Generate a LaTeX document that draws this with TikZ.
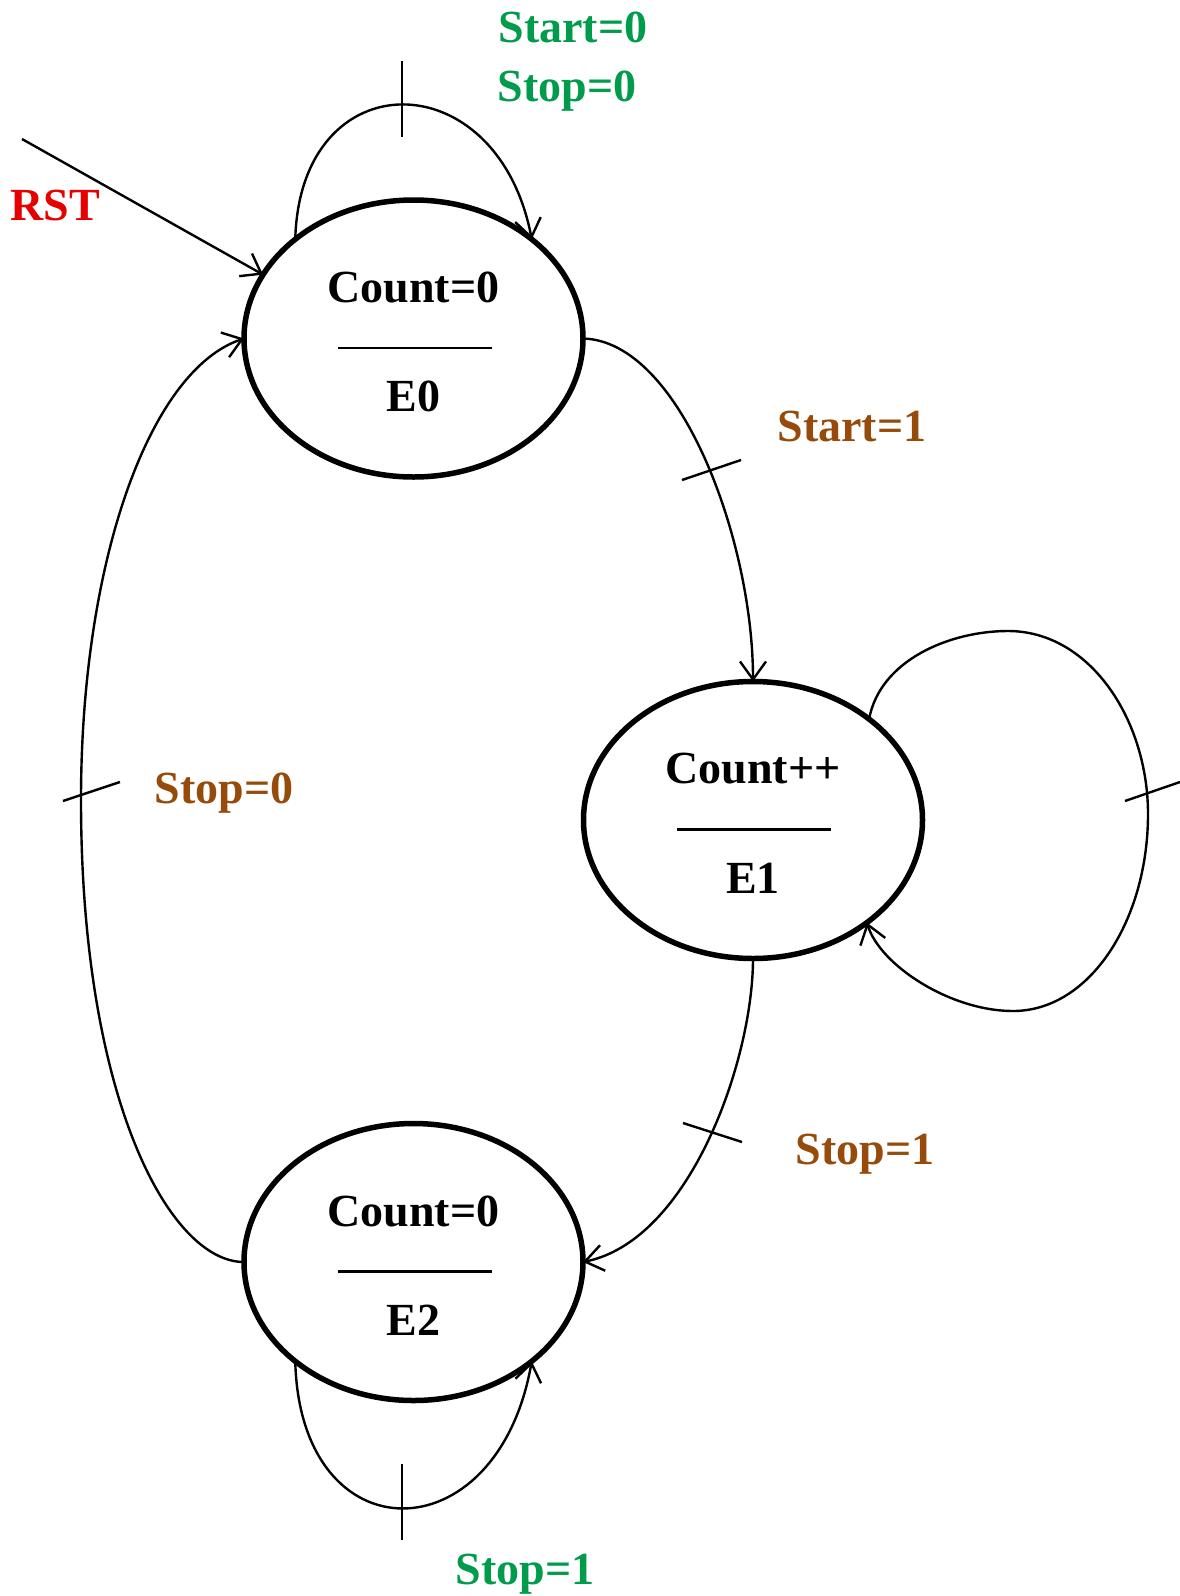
\documentclass[tikz,border=0pt]{standalone}
\usepackage{fontspec}
\setmainfont{Liberation Serif}
\usetikzlibrary{shapes.geometric,arrows.meta,calc}
\definecolor{condgreen}{RGB}{0,155,75}
\definecolor{condbrown}{RGB}{150,75,10}
\definecolor{rstred}{RGB}{230,0,0}
\tikzset{
  state/.style={draw, ellipse, line width=5.5pt, inner sep=0pt, outer sep=0pt,
                minimum width=339pt, minimum height=277pt},
  statetext/.style={font=\fontsize{46}{50}\selectfont\bfseries, inner sep=0pt, anchor=center},
  cond/.style={font=\fontsize{46}{50}\selectfont\bfseries, inner sep=0pt, anchor=center},
  trans/.style={line width=2.4pt, -{Straight Barb[length=18pt,width=26pt,line width=2.4pt]}},
  tick/.style={line width=2.4pt},
  bar/.style={line width=2.5pt}
}
\begin{document}
\begin{tikzpicture}[x=1pt,y=-1pt]
\useasboundingbox (0,0) rectangle (1180,1596);

% states
\node[state] (E0) at (413.5,338.5) {};
\node[state] (E1) at (753,820) {};
\node[state] (E2) at (413.5,1262) {};

% state contents: output above the bar, state name below
\node[statetext] (E0out) at ($(E0)+(0,-51)$) {Count=0};
\node[statetext] (E0name) at ($(E0)+(0,58)$) {E0};
\draw[bar] ($(E0)+(-76,9.5)$) -- ($(E0)+(78,9.5)$);

\node[statetext] (E1out) at ($(E1)+(0,-51)$) {Count++};
\node[statetext] (E1name) at ($(E1)+(0,58)$) {E1};
\draw[bar] ($(E1)+(-76,9.5)$) -- ($(E1)+(78,9.5)$);

\node[statetext] (E2out) at ($(E2)+(0,-51)$) {Count=0};
\node[statetext] (E2name) at ($(E2)+(0,58)$) {E2};
\draw[bar] ($(E2)+(-76,9.5)$) -- ($(E2)+(78,9.5)$);

% reset entry
\coordinate (rststart) at (22,139);
\node[cond, text=rstred] (rst) at (55,205) {RST};
\draw[trans] (rststart) -- (E0.157);

% E0 self loop
\draw[trans] (E0.140) .. controls (300,60) and (497,60) .. (E0.40);
\draw[tick] (402,61) -- (402,137);
\node[cond, text=condgreen] (c00a) at (573,27) {Start=0};
\node[cond, text=condgreen] (c00b) at (567,91) {Stop=0};

% E0 -> E1
\draw[trans] (E0.east) .. controls (680,341) and (753,540) .. (E1.north);
\draw[tick] (682,480) -- (741,460);
\node[cond, text=condbrown] (c01) at (852,426) {Start=1};

% E1 self loop
\draw[trans] (E1.41) .. controls (880,660) and (950,631) .. (1008,631)
  .. controls (1090,631) and (1148,720) .. (1148,814)
  .. controls (1148,920) and (1090,1011) .. (1013,1011)
  .. controls (950,1011) and (880,965) .. (E1.-42);
\draw[tick] (1125,801) -- (1180,782);

% E1 -> E2
\draw[trans] (E1.south) .. controls (753,1060) and (690,1240) .. (E2.east);
\draw[tick] (683,1123) -- (742,1142);
\node[cond, text=condbrown] (c12) at (865,1154) {Stop=1};

% E2 self loop
\draw[trans] (E2.-140) .. controls (300,1557) and (497,1557) .. (E2.-40);
\draw[tick] (402,1464) -- (402,1540);
\node[cond, text=condgreen] (c22) at (525,1574) {Stop=1};

% E2 -> E0
\draw[trans] (E2.west) .. controls (170,1262) and (81,1100) .. (81,800)
  .. controls (81,560) and (150,370) .. (E0.west);
\draw[tick] (63,801) -- (120,782);
\node[cond, text=condbrown] (c20) at (224,793) {Stop=0};
\end{tikzpicture}
\end{document}
